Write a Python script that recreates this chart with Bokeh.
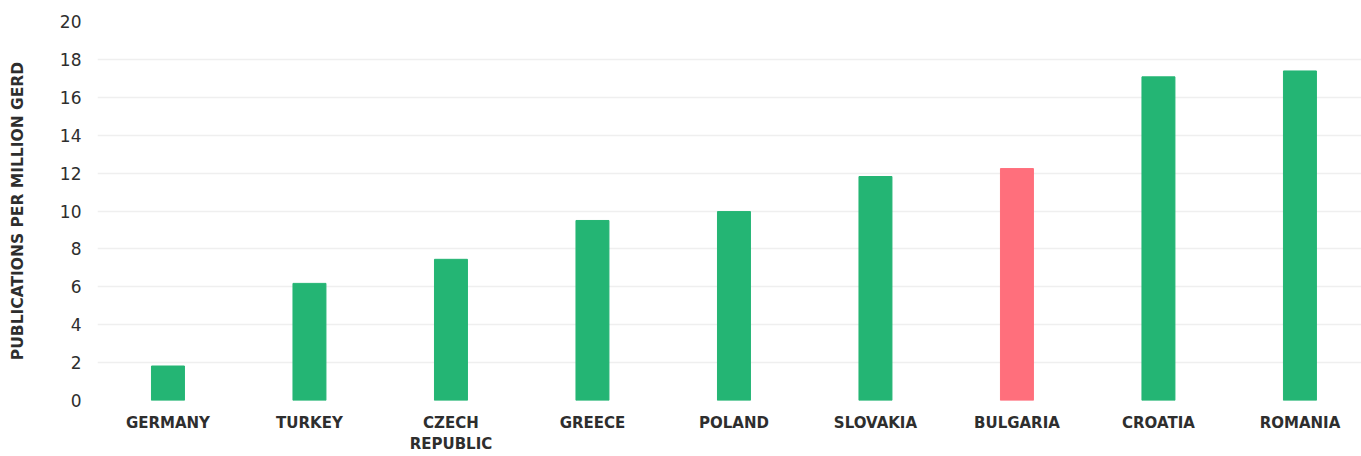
from bokeh.plotting import figure
from bokeh.models import ColumnDataSource, FixedTicker, Range1d
from bokeh.embed import file_html
from bokeh.resources import INLINE

countries = ["GERMANY", "TURKEY", "CZECH\nREPUBLIC", "GREECE", "POLAND",
             "SLOVAKIA", "BULGARIA", "CROATIA", "ROMANIA"]
values = [1.82, 6.18, 7.45, 9.5, 9.97, 11.82, 12.24, 17.08, 17.39]
highlight = "BULGARIA"
y_ticks = [0, 2, 4, 6, 8, 10, 12, 14, 16, 18, 20]

GREEN = "#24b574"
RED = "#ff6f7c"
TEXT = "#2e2e2e"
FONT = "DejaVu Sans"
colors = [RED if c == highlight else GREEN for c in countries]
idx = list(range(len(countries)))

src = ColumnDataSource(dict(x=idx, top=values, color=colors))

p = figure(width=1361, height=456, output_backend="svg", toolbar_location=None,
           x_range=Range1d(-0.498, 8.435), y_range=Range1d(0, 20),
           min_border_left=97, min_border_top=21, min_border_bottom=54, min_border_right=0)
p.outline_line_color = None
p.vbar(x="x", top="top", bottom=0, width=0.233, color="color", source=src)

p.xaxis.ticker = FixedTicker(ticks=idx)
p.xaxis.major_label_overrides = {i: c for i, c in zip(idx, countries)}
p.yaxis.ticker = FixedTicker(ticks=y_ticks)

for ax in (p.xaxis, p.yaxis):
    ax.axis_line_color = None
    ax.major_tick_line_color = None
    ax.minor_tick_line_color = None
    ax.major_label_text_font = FONT
    ax.major_label_text_color = TEXT

p.xaxis.major_label_text_font_size = "15px"
p.xaxis.major_label_text_font_style = "bold"
p.xaxis.major_label_standoff = 7
p.yaxis.major_label_text_font_size = "17px"
p.yaxis.major_label_standoff = 10
p.yaxis.axis_label = "PUBLICATIONS PER MILLION GERD"
p.yaxis.axis_label_text_font = FONT
p.yaxis.axis_label_text_font_size = "15.5px"
p.yaxis.axis_label_text_font_style = "bold"
p.yaxis.axis_label_text_color = TEXT
p.yaxis.axis_label_standoff = 30

p.xgrid.grid_line_color = None
p.ygrid.grid_line_color = "#efefef"
p.ygrid.grid_line_width = 1.5

open("out.html", "w").write(file_html(p, INLINE))
